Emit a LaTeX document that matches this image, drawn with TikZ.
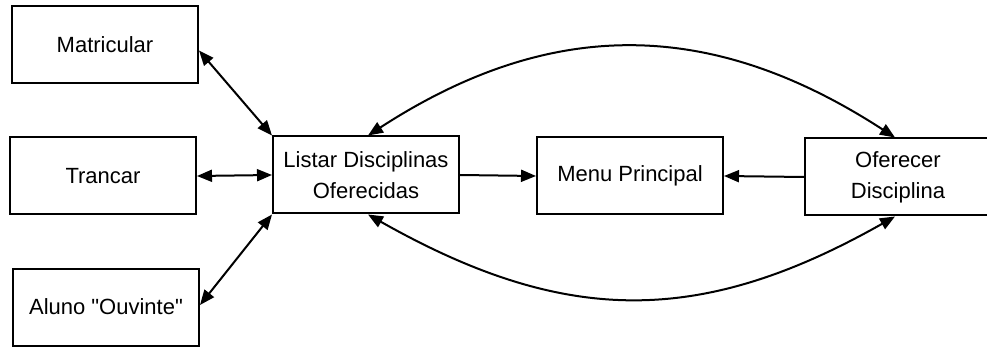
\documentclass[tikz,border=0pt]{standalone}
\usepackage{fontspec}
\setmainfont{Liberation Sans}[Ligatures=TeXOff]
\usetikzlibrary{arrows.meta}
\begin{document}
\begin{tikzpicture}[x=1pt,y=1pt,
  box/.style={draw, line width=2pt, minimum width=186pt, minimum height=77pt,
    inner sep=0pt, align=center, font=\fontsize{22}{31}\selectfont},
  link/.style={line width=2pt, -{Triangle[length=15pt,width=12pt]}},
  dlink/.style={line width=2pt, {Triangle[length=15pt,width=12pt]}-{Triangle[length=15pt,width=12pt]}}]
  \useasboundingbox (0,0) rectangle (987,-347);
  \begin{scope}
  \clip (0,0) rectangle (987,-347);
  % left column
  \node[box] (mat) at (105,-44.5) {Matricular};
  \node[box] (tra) at (103,-176) {Trancar};
  \node[box] (alu) at (106,-307) {Aluno "Ouvinte"};
  % main row
  \node[box] (lis) at (366,-175) {Listar Disciplinas\\Oferecidas};
  \node[box] (men) at (630,-176) {Menu Principal};
  \node[box] (ofe) at (898,-177) {Oferecer\\Disciplina};
  % connectors
  \draw[dlink] ([yshift=-6pt]mat.east) -- (lis.north west);
  \draw[dlink] (tra.east) -- (lis.west);
  \draw[dlink] ([yshift=2pt]alu.east) -- (lis.south west);
  \draw[link] (lis.east) -- (men.west);
  \draw[link] (ofe.west) -- (men.east);
  \draw[dlink] ([xshift=2pt]lis.north) to[out=33,in=147,looseness=1.06] ([xshift=-3pt]ofe.north);
  \draw[dlink] ([xshift=2pt]lis.south) to[out=-29.5,in=-150.5,looseness=1.09] ([xshift=-3pt]ofe.south);
  \end{scope}
\end{tikzpicture}
\end{document}
